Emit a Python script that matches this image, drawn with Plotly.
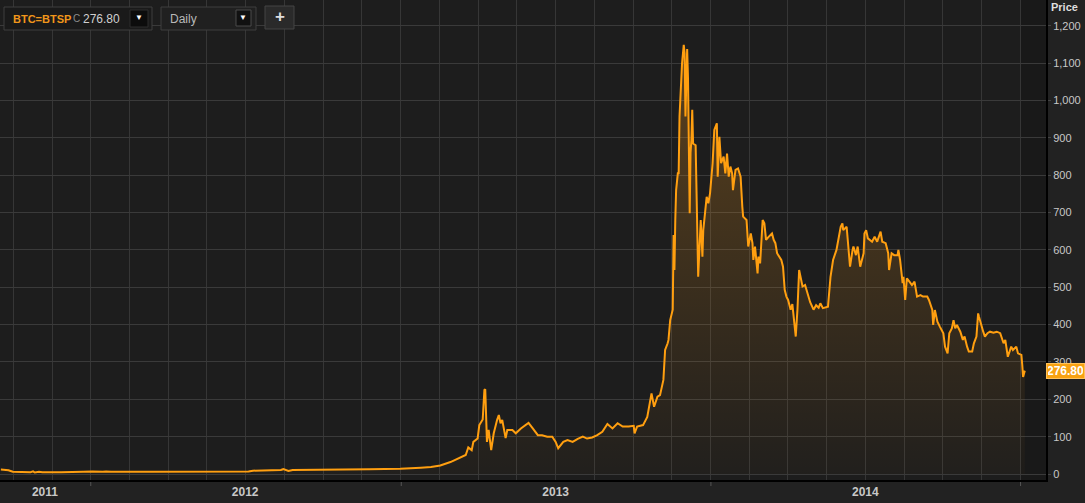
import pandas as pd
import plotly.graph_objects as go

# ---------------- data ----------------
start_date = "2011-09-17"          # first day of the series
day_offsets = [
    0, 5, 9, 14, 24, 35, 38, 40, 45, 49, 71, 94, 97, 108, 113, 115, 120, 124, 130,
    177, 236, 292, 297, 318, 330, 333, 336, 339, 344, 368, 371, 375, 379, 384, 389,
    430, 434, 471, 489, 495, 507, 518, 530, 542, 548, 551, 555, 557, 562, 564, 568,
    570, 571, 573, 575, 578, 581, 585, 587, 589, 591, 595, 597, 603, 607, 613, 618,
    622, 627, 633, 638, 644, 650, 654, 657, 663, 668, 674, 680, 686, 691, 697, 703,
    709, 715, 721, 727, 733, 740, 746, 747, 750, 757, 762, 767, 770, 774, 777, 781,
    783, 786, 787, 789, 792, 793, 794, 795, 796, 798, 799, 800, 802, 803, 805, 806,
    807, 808, 809, 810, 812, 813, 814, 815, 816, 819, 821, 822, 825, 827, 828, 832,
    834, 836, 839, 841, 844, 845, 847, 849, 852, 854, 856, 858, 860, 862, 863, 866,
    869, 872, 874, 875, 879, 880, 881, 884, 886, 887, 889, 892, 893, 895, 898, 900,
    902, 905, 909, 911, 913, 915, 918, 920, 922, 924, 926, 928, 931, 933, 937, 939,
    941, 945, 948, 951, 954, 958, 961, 964, 966, 969, 975, 978, 981, 985, 987, 990,
    992, 993, 997, 999, 1001, 1004, 1005, 1008, 1010, 1013, 1017, 1018, 1020, 1022,
    1027, 1030, 1033, 1037, 1039, 1043, 1046, 1047, 1050, 1053, 1057, 1058, 1060,
    1063, 1064, 1066, 1068, 1071, 1074, 1077, 1080, 1084, 1087, 1092, 1094, 1098,
    1099, 1101, 1104, 1107, 1111, 1113, 1116, 1118, 1121, 1123, 1125, 1127, 1131,
    1134, 1136, 1139, 1141, 1145, 1147, 1150, 1152, 1153, 1156, 1158, 1160, 1163,
    1166, 1170, 1174, 1178, 1182, 1184, 1187, 1191, 1193, 1197, 1199, 1203, 1204,
    1205, 1207,
]
prices = [
    12, 12, 10, 6, 5, 5, 7, 4, 6, 5, 4.5, 4.5, 6, 7, 6, 7.5, 6, 7, 6,
    6, 6, 6.5, 9, 10, 11, 13, 10, 8, 11, 11, 13, 12, 13, 11, 12,
    12, 13, 14, 15, 17, 19, 23, 32, 46, 51, 71, 64, 86, 95, 131, 146,
    225, 227, 86, 118, 64, 109, 145, 158, 136, 145, 96, 118, 118, 109, 122, 131,
    137, 122, 104, 104, 100, 100, 86, 69, 86, 91, 86, 94, 100, 95, 98, 104,
    113, 134, 122, 136, 127, 127, 129, 109, 127, 131, 153, 216, 180, 207, 211, 252,
    332, 350, 359, 412, 440, 640, 546, 680, 760, 805, 805, 957, 1050, 1100, 1149, 1126,
    957, 1100, 1138, 1060, 698, 860, 894, 975, 885, 880, 680, 528, 680, 582, 653, 742,
    725, 752, 832, 921, 939, 796, 903, 832, 850, 805, 858, 796, 823, 805, 760, 814,
    818, 796, 716, 689, 680, 653, 609, 644, 618, 573, 609, 537, 582, 564, 680, 671,
    627, 635, 644, 627, 618, 591, 582, 573, 555, 493, 475, 466, 440, 455, 368, 440,
    546, 502, 506, 484, 460, 440, 452, 445, 457, 444, 448, 528, 573, 600, 627, 662,
    671, 653, 662, 600, 555, 600, 609, 586, 609, 555, 591, 644, 653, 631,
    622, 635, 622, 649, 622, 618, 591, 546, 591, 586, 586, 600, 573,
    511, 528, 466, 524, 515, 506, 515, 475, 479, 475, 475, 466, 439,
    399, 439, 408, 394, 377, 341, 323, 377, 390, 412, 390, 399, 381,
    359, 368, 341, 328, 328, 350, 368, 430, 421, 394, 381, 368, 377,
    381, 378, 381, 377, 350, 359, 314, 341, 332, 341, 323, 319, 292,
    260, 276.8,
]
dates = pd.Timestamp(start_date) + pd.to_timedelta(day_offsets, unit="D")

year_labels = ["2011", "2012", "2013", "2014"]
year_label_dates = ["2011-11-08", "2012-07-01", "2013-07-02", "2014-07-02"]
year_boundaries = ["2012-01-01", "2013-01-01", "2014-01-01", "2015-01-01"]
price_ticks = list(range(0, 1201, 100))
last_price = 276.80
ric = "BTC=BTSP"
interval = "Daily"

# ---------------- styling ----------------
FONT = "Liberation Sans, Arial, sans-serif"
ORANGE = "#ff9f10"
W, H = 1085, 503
ML, MR, MT, MB = 0, 39, 0, 23
PW, PH = W - ML - MR, H - MT - MB


def px(xp):
    return xp / PW


def py(yp):
    return 1 - yp / PH


# vertical grid every 1/8 year
grid_dates = [pd.Timestamp("2012-01-01") + pd.Timedelta(days=k * 365.25 / 8) for k in range(-2, 25)]

fig = go.Figure()
fig.add_trace(go.Scatter(
    x=dates, y=prices, mode="lines",
    line=dict(color=ORANGE, width=2),
    fill="tozeroy",
    fillgradient=dict(type="vertical", start=0, stop=1150,
                      colorscale=[[0, "rgba(255,160,30,0.02)"], [1, "rgba(255,160,30,0.27)"]]),
    hoverinfo="skip", showlegend=False,
))

shapes = []
# darker strip after last data
shapes.append(dict(type="rect", xref="x", yref="paper", x0="2015-01-01", x1="2015-01-31",
                   y0=0, y1=1, fillcolor="#191919", line=dict(width=0), layer="below"))
# year boundary tick marks under the axis
for d in year_boundaries:
    shapes.append(dict(type="line", xref="x", yref="paper", x0=d, x1=d,
                       y0=py(PH + 2), y1=py(PH + 6), line=dict(color="#555555", width=1)))


def box(x0, x1, y0, y1, fill, border):
    shapes.append(dict(type="rect", xref="paper", yref="paper",
                       x0=px(x0), x1=px(x1), y0=py(y1), y1=py(y0),
                       fillcolor=fill, line=dict(color=border, width=1), layer="above"))


box(4, 152, 7, 30, "#1a1a1a", "#3e3e3e")
box(130, 148, 10, 27, "#0c0c0c", "#2c2c2c")
box(161, 256, 7, 30, "#202020", "#3e3e3e")
box(236, 251, 10, 26, "#111111", "#4a4a4a")
box(265, 294, 6, 29, "#2a2a2a", "#444444")

annotations = []


def label(x, y, text, color, size, anchor="left"):
    annotations.append(dict(xref="paper", yref="paper", x=px(x), y=py(y), text=text,
                            showarrow=False, xanchor=anchor, yanchor="middle",
                            font=dict(family=FONT, size=size, color=color)))


label(11, 18.5, "<b>" + ric + "</b>", "#f0961a", 11)
label(71, 19, "C", "#8a8a8a", 10)
label(81, 18.5, f"{last_price:.2f}", "#d0d0d0", 12)
label(139, 18, "▼", "#ffffff", 8, "center")
label(168, 19, interval, "#b8b8b8", 12)
label(243.5, 18, "▼", "#ffffff", 8, "center")
label(279.5, 17, "<b>+</b>", "#dddddd", 17, "center")
label(PW + 3, 7, "<b>Price</b>", "#dedede", 11)

annotations.append(dict(xref="paper", yref="y", x=1, y=last_price, xanchor="left", yanchor="middle",
                        text=f"<b>{last_price:.2f}</b>", showarrow=False,
                        font=dict(family=FONT, size=12, color="#ffffff"),
                        bgcolor="#f8a212", bordercolor="#ffc25a", borderwidth=1, borderpad=1,
                        width=35, height=12))

fig.update_layout(
    width=W, height=H,
    margin=dict(l=ML, r=MR, t=MT, b=MB, pad=0),
    paper_bgcolor="#222222", plot_bgcolor="#1d1d1d",
    font=dict(family=FONT, color="#c8c8c8", size=11),
    shapes=shapes, annotations=annotations,
    xaxis=dict(
        type="date", range=["2011-09-16", "2015-01-31"],
        tickmode="array", tickvals=year_label_dates, ticktext=["<b>%s</b>" % t for t in year_labels],
        ticks="", showgrid=False, zeroline=False,
        tickfont=dict(family=FONT, size=12, color="#c8c8c8"),
        showline=True, linecolor="#000000", linewidth=2,
        minor=dict(tickvals=grid_dates, showgrid=True, gridcolor="#363636", gridwidth=1, ticks=""),
        fixedrange=True,
    ),
    yaxis=dict(
        side="right", range=[-16, 1269],
        tickmode="array", tickvals=price_ticks, tickformat=",",
        showgrid=True, gridcolor="#3a3a3a", gridwidth=1, zeroline=False,
        ticks="outside", ticklen=3, tickcolor="#444444",
        tickfont=dict(family=FONT, size=11, color="#c8c8c8"),
        showline=True, linecolor="#000000", linewidth=2,
        fixedrange=True,
    ),
)

fig.write_html("out.html", config=dict(displayModeBar=False),
               post_script="document.body.style.margin='0';document.body.style.overflow='hidden';")
